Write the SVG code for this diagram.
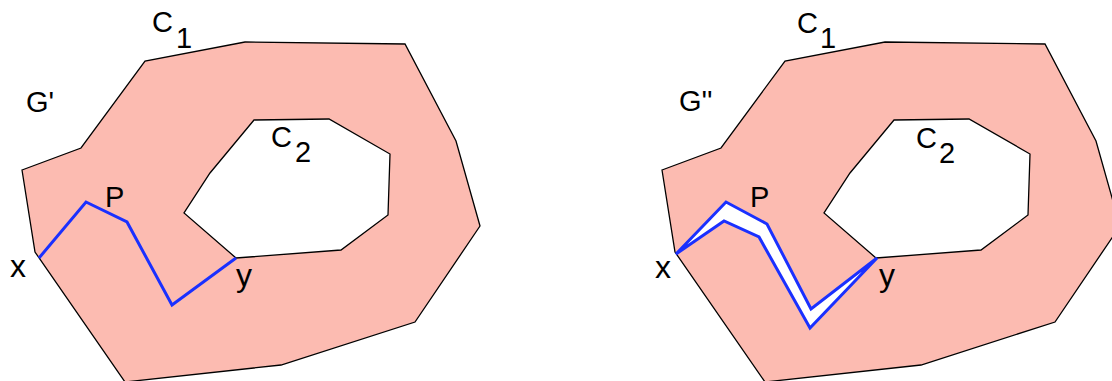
<svg xmlns="http://www.w3.org/2000/svg" width="1112" height="381" viewBox="0 0 1112 381">
<style>
.region{fill:#fcbbb1;stroke:#000;stroke-width:1.3;stroke-linejoin:miter}
.hole{fill:#fff;stroke:#000;stroke-width:1.3}
.path{fill:none;stroke:#1a30ff;stroke-width:3;stroke-linejoin:miter}
.split{fill:#fff;stroke:#1a30ff;stroke-width:3;stroke-linejoin:miter}
text{font-family:"Liberation Sans",Arial,sans-serif;font-size:29px;fill:#000}
.big{font-size:32px}
</style>
<defs>
<polygon id="outer" points="22,170 81,148 145,61 245,42 405,44 456,141 480,226 415,322 281,365 125,382 35,252"/>
<polygon id="inner" points="254,120 329,119 390,154 388,215 341,250 236,258 184,213 210,173"/>
</defs>
<g id="left-figure">
<g id="left-region">
<use href="#outer" class="region"/>
<use href="#inner" class="hole"/>
</g>
<g id="left-path">
<polyline class="path" points="39,258 86,202 127,222 172,305 236,258"/>
</g>
<g id="left-labels">
<text x="152" y="32">C</text><text x="176" y="48">1</text>
<text x="26" y="112">G'</text>
<text x="271" y="147">C</text><text x="295" y="162">2</text>
<text x="105" y="207">P</text>
<text class="big" x="10" y="277">x</text>
<text class="big" x="236" y="286">y</text>
</g>
</g>
<g id="right-figure">
<g id="right-region" transform="translate(640,0)">
<use href="#outer" class="region"/>
<use href="#inner" class="hole"/>
</g>
<g id="right-path">
<polygon class="split" points="676,254 726,202 767,224 811,309 877,258 810,328 759,237 724,221"/>
</g>
<g id="right-labels">
<text x="797" y="33">C</text><text x="820" y="48">1</text>
<text x="679" y="111">G''</text>
<text x="916" y="148">C</text><text x="939" y="163">2</text>
<text x="750" y="207">P</text>
<text class="big" x="655" y="278">x</text>
<text class="big" x="879" y="286">y</text>
</g>
</g>
</svg>
